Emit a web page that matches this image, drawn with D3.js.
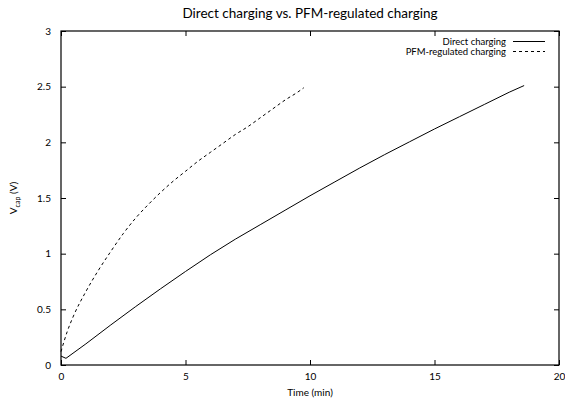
<!DOCTYPE html>
<html>
<head>
<meta charset="utf-8">
<script src="https://cdn.jsdelivr.net/npm/d3@7"></script>
<style>
  body { margin: 0; background: #fff; }
  text { font-family: Lato, "Open Sans", sans-serif; fill: #000; }
</style>
</head>
<body>
<div id="chart"></div>
<script>
// Direct charging (time in min, voltage in V)
var directTime = [0, 0.2, 1, 2, 3, 4, 5, 6, 7, 8, 9, 10, 11, 12, 13, 14, 15, 16, 17, 18, 18.6];
var directVolt = [0.08, 0.06, 0.19, 0.36, 0.525, 0.685, 0.84, 0.99, 1.13, 1.26, 1.39, 1.52, 1.645, 1.77, 1.89, 2.005, 2.12, 2.23, 2.34, 2.45, 2.51];

// PFM-regulated charging
var pfmTime = [0, 0.25, 0.5, 1, 1.5, 2, 2.5, 3, 3.5, 4, 4.5, 5, 5.5, 6, 6.5, 7, 7.5, 8, 8.5, 9, 9.5, 9.75];
var pfmVolt = [0.12, 0.3, 0.44, 0.66, 0.85, 1.02, 1.18, 1.32, 1.44, 1.55, 1.65, 1.74, 1.83, 1.91, 1.99, 2.07, 2.14, 2.22, 2.30, 2.38, 2.45, 2.49];

var xTicks = [0, 5, 10, 15, 20];
var yTicks = [0, 0.5, 1, 1.5, 2, 2.5, 3];

var svgWidth = 565;
var svgHeight = 403;
var margin = { top: 31, right: 6, bottom: 38, left: 61 };
var width = svgWidth - margin.left - margin.right;
var height = svgHeight - margin.top - margin.bottom;

var svg = d3.select("#chart")
  .append("svg")
  .attr("width", svgWidth)
  .attr("height", svgHeight);

var chartGroup = svg.append("g")
  .attr("transform", `translate(${margin.left}, ${margin.top})`);

var x = d3.scaleLinear().domain([0, 20]).range([0, width]);
var y = d3.scaleLinear().domain([0, 3]).range([height, 0]);

// axes with inward ticks, mirrored on top / right
function styleAxis(g) {
  g.select(".domain").remove();
  g.selectAll("line").attr("stroke", "#000").attr("stroke-width", 1);
  g.selectAll("text").style("font-size", "10px");
}

chartGroup.append("g")
  .attr("transform", `translate(0, ${height})`)
  .call(d3.axisBottom(x).tickValues(xTicks).tickFormat(d3.format("d")).tickSizeInner(-5).tickSizeOuter(0).tickPadding(8))
  .call(styleAxis);

chartGroup.append("g")
  .call(d3.axisTop(x).tickValues(xTicks).tickSizeInner(-5).tickSizeOuter(0).tickFormat(""))
  .call(styleAxis);

chartGroup.append("g")
  .call(d3.axisLeft(y).tickValues(yTicks).tickFormat(d => d).tickSizeInner(-5).tickSizeOuter(0).tickPadding(10))
  .call(styleAxis);

chartGroup.append("g")
  .attr("transform", `translate(${width}, 0)`)
  .call(d3.axisRight(y).tickValues(yTicks).tickSizeInner(-5).tickSizeOuter(0).tickFormat(""))
  .call(styleAxis);

// frame
chartGroup.append("rect")
  .attr("width", width)
  .attr("height", height)
  .attr("fill", "none")
  .attr("stroke", "#000")
  .attr("stroke-width", 1.2);

var directLine = d3.line()
  .x(d => x(d[0]))
  .y(d => y(d[1]));

var pfmLine = d3.line()
  .curve(d3.curveMonotoneX)
  .x(d => x(d[0]))
  .y(d => y(d[1]));

var directData = directTime.map((t, i) => [t, directVolt[i]]);
var pfmData = pfmTime.map((t, i) => [t, pfmVolt[i]]);

chartGroup.append("path")
  .datum(directData)
  .attr("d", directLine)
  .attr("fill", "none")
  .attr("stroke", "#000")
  .attr("stroke-width", 1);

chartGroup.append("path")
  .datum(pfmData)
  .attr("d", pfmLine)
  .attr("fill", "none")
  .attr("stroke", "#000")
  .attr("stroke-width", 1)
  .attr("stroke-dasharray", "3,3");

// legend
var legend = [
  { name: "Direct charging", dash: null },
  { name: "PFM-regulated charging", dash: "3,3" }
];
legend.forEach(function(d, i) {
  var ly = 41.5 + i * 10;
  svg.append("text")
    .attr("x", 506)
    .attr("y", ly + 3.5)
    .attr("text-anchor", "end")
    .style("font-size", "9.5px")
    .text(d.name);
  svg.append("line")
    .attr("x1", 513).attr("x2", 545)
    .attr("y1", ly).attr("y2", ly)
    .attr("stroke", "#000")
    .attr("stroke-width", 1)
    .attr("stroke-dasharray", d.dash);
});

// title
svg.append("text")
  .attr("x", margin.left + width / 2)
  .attr("y", 18)
  .attr("text-anchor", "middle")
  .style("font-size", "13.5px")
  .text("Direct charging vs. PFM-regulated charging");

// axis labels
svg.append("text")
  .attr("x", margin.left + width / 2)
  .attr("y", 396)
  .attr("text-anchor", "middle")
  .style("font-size", "10px")
  .text("Time (min)");

var yLabel = svg.append("text")
  .attr("transform", `translate(17, ${margin.top + height / 2}) rotate(-90)`)
  .attr("text-anchor", "middle")
  .style("font-size", "10px");
yLabel.append("tspan").text("V");
yLabel.append("tspan").attr("dy", 2.5).style("font-size", "7px").text("cap");
yLabel.append("tspan").attr("dy", -2.5).text(" (V)");
</script>
</body>
</html>
